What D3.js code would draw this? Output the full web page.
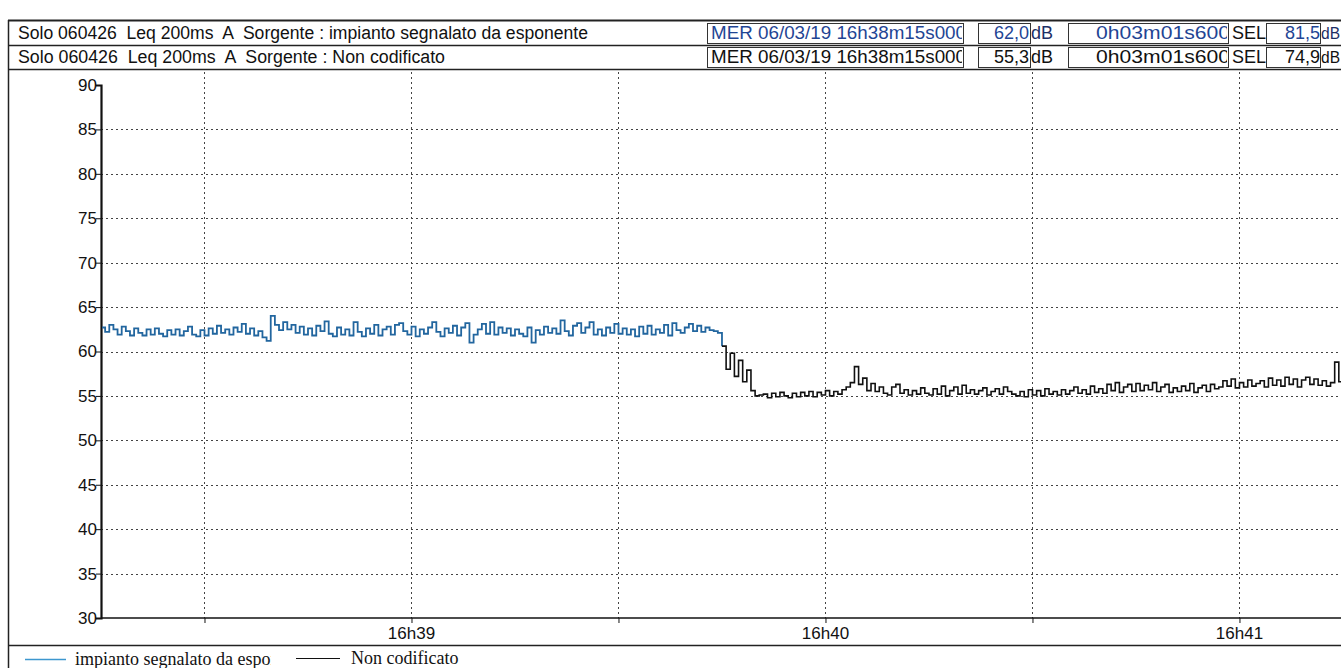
<!DOCTYPE html>
<html>
<head>
<meta charset="utf-8">
<script src="https://cdn.jsdelivr.net/npm/d3@7/dist/d3.min.js"></script>
<style>
  html, body { margin: 0; padding: 0; background: #fff; }
  svg { display: block; }
  text { white-space: pre; }
</style>
</head>
<body>
<svg id="chart" width="1341" height="668"></svg>
<script>
// ---- Measurement header ----
const rowTitles = [
  "Solo 060426  Leq 200ms  A  Sorgente : impianto segnalato da esponente",
  "Solo 060426  Leq 200ms  A  Sorgente : Non codificato"
];
const rowStart = ["MER 06/03/19 16h38m15s000", "MER 06/03/19 16h38m15s000"];
const rowLeq = ["62,0", "55,3"];
const rowDuration = ["0h03m01s600", "0h03m01s600"];
const rowSel = ["81,5", "74,9"];

// ---- Legend ----
const legendLabels = ["impianto segnalato da esponente", "Non codificato"];

// ---- Axes ----
const yTicks = [30, 35, 40, 45, 50, 55, 60, 65, 70, 75, 80, 85, 90];
const xLabelTimes = ["16:39:00", "16:40:00", "16:41:00"];
const xLabelTexts = ["16h39", "16h40", "16h41"];
const startTime = "16:38:15.0";
const endTime = "16:41:16.6";
const sampleStep = 0.6; // seconds between listed values

// ---- Leq (dB) series, one value per 0.6 s ----
// source "impianto segnalato da esponente", from 16h38m15s
const seriesImpianto = [
  62.7,62.2,63.0,62.5,61.9,62.8,62.3,61.8,62.6,62.1,
  61.8,62.5,61.9,62.6,62.0,61.7,62.4,61.9,62.5,61.8,
  62.3,62.8,61.9,61.7,62.4,61.8,62.6,62.0,62.9,62.1,
  62.5,61.9,62.7,62.2,63.1,62.0,62.6,61.8,62.3,61.6,
  61.2,64.0,63.0,62.4,63.3,62.5,63.0,62.1,62.8,61.9,
  62.6,61.8,62.9,62.3,63.4,62.0,61.7,62.7,61.9,62.5,
  61.8,63.3,62.2,61.7,62.6,62.0,63.0,61.8,62.5,62.8,
  61.9,63.0,63.2,62.3,61.9,62.8,61.7,62.5,62.0,62.7,
  63.3,62.2,61.7,62.6,62.1,62.9,61.8,62.7,63.2,61.0,
  61.9,62.5,63.1,62.0,63.3,61.9,62.7,62.1,62.6,61.8,
  62.5,62.0,61.7,62.7,61.0,62.4,61.9,62.8,62.1,62.6,
  62.0,63.5,62.3,61.8,62.9,63.2,62.1,62.7,63.3,61.9,
  62.5,61.8,62.7,62.1,63.1,62.0,62.6,61.9,62.5,61.7,
  62.8,62.0,62.9,61.9,62.5,62.1,63.0,61.8,63.2,62.4,
  62.1,62.7,63.1,62.3,62.9,62.2,62.7,62.4,62.3,62.1
];
// source "Non codificato", from 16h39m45s
const seriesNonCodStart = "16:39:45.0";
const seriesNonCod = [
  60.6,58.0,59.8,57.2,59.0,56.6,57.9,55.6,55.0,55.1,
  55.2,54.8,55.3,54.9,55.4,55.0,54.8,55.3,54.9,55.4,
  55.0,55.5,54.9,55.4,55.1,55.6,55.0,55.5,55.2,55.7,
  56.0,56.5,58.3,56.3,57.0,55.6,56.4,55.5,56.0,55.3,
  55.1,56.0,56.3,55.3,55.7,55.1,55.6,55.2,55.9,55.3,
  55.1,55.8,55.2,56.1,55.0,55.6,56.0,55.2,56.2,55.3,
  55.7,55.2,55.6,55.9,55.1,55.5,55.8,55.2,56.0,55.5,
  55.2,55.0,55.5,54.9,55.7,55.1,55.6,55.0,55.8,55.2,
  55.5,55.1,55.7,55.2,55.6,56.0,55.3,55.7,55.2,56.1,
  55.4,55.8,55.3,56.3,55.6,56.5,55.4,56.0,56.3,55.5,
  56.4,55.6,56.2,55.7,56.5,55.5,56.0,56.3,55.4,55.9,
  55.5,56.1,55.6,56.4,55.4,55.9,56.2,55.5,56.3,55.8,
  56.0,56.7,56.1,56.9,55.9,56.5,56.0,56.8,56.1,56.4,
  56.7,56.0,57.0,56.2,56.8,56.1,57.1,56.3,56.9,56.0,
  56.8,57.1,56.3,56.9,56.2,56.7,56.1,56.5,58.8,56.6
];

const colorImpianto = "#22669f";
const colorNonCod = "#111111";
const legendBlue = "#3d97cf";
const textBlue = "#1f4594";

// ---------------------------------------------------------------
const W = 1341, H = 668;
const svg = d3.select("#chart");
const parse = s => {
  const [h, m, sec] = s.split(":");
  const d = new Date(2019, 2, 6, +h, +m, 0, 0);
  return new Date(d.getTime() + parseFloat(sec) * 1000);
};
const sans = "'Liberation Sans', Arial, sans-serif";
const serif = "'Liberation Serif', 'Times New Roman', serif";

svg.append("rect").attr("width", W).attr("height", H).attr("fill", "#fff");

const plot = { left: 101, right: 1354, top: 85, bottom: 618 };
const x = d3.scaleTime().domain([parse(startTime), parse(endTime)]).range([plot.left, plot.right]);
const y = d3.scaleLinear().domain([30, 90]).range([plot.bottom, plot.top]);

// ---- header rows ----
const frameLeft = 8;
const rowTop = [21, 45];
const rowH = 24;
const titleWidths = [570, 427];
const header = svg.append("g").attr("font-family", sans);
header.append("line").attr("x1", frameLeft).attr("x2", W).attr("y1", 20.5).attr("y2", 20.5)
  .attr("stroke", "#222").attr("stroke-width", 2);
rowTop.forEach((top, i) => {
  const g = header.append("g");
  const col = i === 0 ? textBlue : "#111";
  const unitCol = i === 0 ? "#1c2f66" : "#111";
  g.append("line").attr("x1", frameLeft).attr("x2", W).attr("y1", top + rowH + 0.5).attr("y2", top + rowH + 0.5)
    .attr("stroke", "#222").attr("stroke-width", 1.5);
  const base = top + 18;
  g.append("text").attr("x", 18).attr("y", base).attr("font-size", 18).attr("fill", "#111")
    .attr("textLength", titleWidths[i]).attr("lengthAdjust", "spacingAndGlyphs")
    .text(rowTitles[i]);
  const boxes = [[707, 963], [978, 1030], [1068, 1228], [1266, 1320]];
  boxes.forEach(([a, b]) => {
    g.append("rect").attr("x", a + 0.5).attr("y", top + 2.5).attr("width", b - a).attr("height", rowH - 4)
      .attr("fill", "none").attr("stroke", "#333").attr("stroke-width", 1);
  });
  const clipId = "clipStart" + i;
  svg.append("clipPath").attr("id", clipId).append("rect")
    .attr("x", 708).attr("y", top).attr("width", 254).attr("height", rowH);
  g.append("text").attr("x", 711).attr("y", base).attr("font-size", 18).attr("fill", col)
    .attr("textLength", 255).attr("lengthAdjust", "spacingAndGlyphs")
    .attr("clip-path", `url(#${clipId})`).text(rowStart[i]);
  g.append("text").attr("x", 1029).attr("y", base).attr("font-size", 18).attr("fill", col)
    .attr("text-anchor", "end").text(rowLeq[i]);
  g.append("text").attr("x", 1031).attr("y", base).attr("font-size", 18).attr("fill", unitCol).text("dB");
  const clipD = "clipDur" + i;
  svg.append("clipPath").attr("id", clipD).append("rect")
    .attr("x", 1069).attr("y", top).attr("width", 158).attr("height", rowH);
  g.append("text").attr("x", 1096).attr("y", base).attr("font-size", 19).attr("fill", col)
    .attr("textLength", 134).attr("lengthAdjust", "spacingAndGlyphs")
    .attr("clip-path", `url(#${clipD})`).text(rowDuration[i]);
  g.append("text").attr("x", 1232).attr("y", base).attr("font-size", 18).attr("fill", "#111").text("SEL");
  g.append("text").attr("x", 1320).attr("y", base).attr("font-size", 18).attr("fill", col)
    .attr("text-anchor", "end").text(rowSel[i]);
  g.append("text").attr("x", 1321).attr("y", base).attr("font-size", 17).attr("fill", unitCol)
    .attr("textLength", 19).attr("lengthAdjust", "spacingAndGlyphs").text("dB");
});

// outer frame left edge
svg.append("line").attr("x1", frameLeft + 0.5).attr("x2", frameLeft + 0.5).attr("y1", 20).attr("y2", H)
  .attr("stroke", "#222").attr("stroke-width", 1.5);

// ---- grid ----
const gridTimes = d3.timeSecond.every(30).range(parse(startTime), parse(endTime))
  .filter(t => t > parse(startTime));
const grid = svg.append("g").attr("stroke", "#444").attr("stroke-width", 1).attr("stroke-dasharray", "2,3");
yTicks.filter(v => v > 30 && v < 90).forEach(v => {
  grid.append("line").attr("x1", plot.left).attr("x2", W).attr("y1", Math.round(y(v)) + 0.5).attr("y2", Math.round(y(v)) + 0.5);
});
gridTimes.forEach(t => {
  grid.append("line").attr("x1", Math.round(x(t)) + 0.5).attr("x2", Math.round(x(t)) + 0.5)
    .attr("y1", 72).attr("y2", plot.bottom);
});

// ---- y axis ----
const yAxis = d3.axisLeft(y).tickValues(yTicks).tickSize(5).tickFormat(d3.format("d"));
const yg = svg.append("g").attr("transform", `translate(${plot.left},0)`).call(yAxis);
yg.select(".domain").attr("stroke", "#111").attr("stroke-width", 2.2);
yg.selectAll(".tick line").attr("stroke", "#111");
yg.selectAll(".tick text").attr("font-family", sans).attr("font-size", 17).attr("fill", "#111").attr("x", -4);

// ---- x axis ----
const xAxis = d3.axisBottom(x).tickValues(gridTimes).tickSize(5).tickFormat(() => "");
const xg = svg.append("g").attr("transform", `translate(0,${plot.bottom})`).call(xAxis);
xg.select(".domain").attr("stroke", "#111").attr("stroke-width", 1.5).attr("d", `M${plot.left},0H${W}`);
xg.selectAll(".tick line").attr("stroke", "#111");
xLabelTimes.forEach((t, i) => {
  svg.append("text").attr("x", x(parse(t))).attr("y", 639).attr("text-anchor", "middle")
    .attr("font-family", sans).attr("font-size", 17).attr("fill", "#111").text(xLabelTexts[i]);
});

// separator above legend
svg.append("line").attr("x1", frameLeft).attr("x2", W).attr("y1", 645.5).attr("y2", 645.5)
  .attr("stroke", "#222").attr("stroke-width", 1.5);

// ---- series ----
function seriesPoints(values, t0) {
  const start = parse(t0).getTime();
  const pts = values.map((v, i) => [new Date(start + i * sampleStep * 1000), v]);
  pts.push([new Date(start + values.length * sampleStep * 1000), values[values.length - 1]]);
  return pts;
}
const line = d3.line().x(d => x(d[0])).y(d => y(d[1])).curve(d3.curveStepAfter);
svg.append("clipPath").attr("id", "plotClip").append("rect")
  .attr("x", plot.left + 1).attr("y", plot.top).attr("width", W - plot.left).attr("height", plot.bottom - plot.top);
const ptsImp = seriesPoints(seriesImpianto, startTime);
const ptsNon = seriesPoints(seriesNonCod, seriesNonCodStart);
// join the first source down to where the second one begins
ptsImp.push([ptsNon[0][0], ptsNon[0][1]]);
svg.append("path").datum(ptsImp).attr("d", line).attr("fill", "none")
  .attr("stroke", colorImpianto).attr("stroke-width", 1.8).attr("clip-path", "url(#plotClip)");
svg.append("path").datum(ptsNon).attr("d", line).attr("fill", "none")
  .attr("stroke", colorNonCod).attr("stroke-width", 1.6).attr("clip-path", "url(#plotClip)");

// ---- legend ----
const lg = svg.append("g").attr("font-family", serif).attr("font-size", 18).attr("fill", "#111");
lg.append("line").attr("x1", 25).attr("x2", 66).attr("y1", 659.5).attr("y2", 659.5)
  .attr("stroke", legendBlue).attr("stroke-width", 1.5);
svg.append("clipPath").attr("id", "legClip").append("rect").attr("x", 70).attr("y", 646).attr("width", 201).attr("height", 22);
lg.append("text").attr("x", 75).attr("y", 665).attr("clip-path", "url(#legClip)").text(legendLabels[0]);
lg.append("line").attr("x1", 296).attr("x2", 340).attr("y1", 658.5).attr("y2", 658.5)
  .attr("stroke", "#111").attr("stroke-width", 1.2);
lg.append("text").attr("x", 351).attr("y", 664).text(legendLabels[1]);
</script>
</body>
</html>
